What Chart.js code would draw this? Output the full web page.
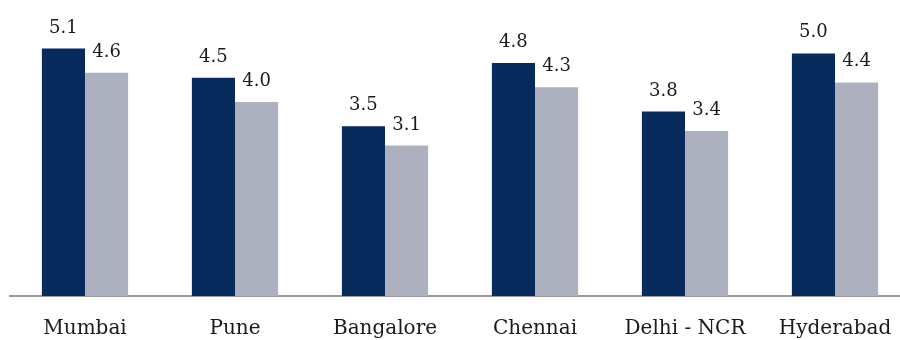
<!DOCTYPE html>
<html>
<head>
<meta charset="utf-8">
<script src="https://cdn.jsdelivr.net/npm/chart.js@4.4.1/dist/chart.umd.min.js"></script>
<style>
  html, body { margin: 0; padding: 0; background: #fff; overflow: hidden; }
  #wrap { position: relative; width: 920px; height: 340px; }
</style>
</head>
<body>
<div id="wrap"><canvas id="chartCanvas"></canvas></div>
<script>
const cities = ["Mumbai", "Pune", "Bangalore", "Chennai", "Delhi - NCR", "Hyderabad"];
const seriesA = [5.1, 4.5, 3.5, 4.8, 3.8, 5.0];
const seriesB = [4.6, 4.0, 3.1, 4.3, 3.4, 4.4];

const serif = "'DejaVu Serif', serif";

// value labels above every bar
const barValues = {
  id: 'barValues',
  afterDatasetsDraw(chart) {
    const ctx = chart.ctx;
    ctx.save();
    ctx.font = "18px " + serif;
    ctx.fillStyle = "#1a1a1a";
    ctx.textAlign = "center";
    ctx.textBaseline = "alphabetic";
    chart.data.datasets.forEach((ds, i) => {
      chart.getDatasetMeta(i).data.forEach((bar, j) => {
        ctx.fillText(ds.data[j].toFixed(1), bar.x, bar.y - 16);
      });
    });
    ctx.restore();
  }
};

new Chart(document.getElementById('chartCanvas').getContext('2d'), {
  type: 'bar',
  data: {
    labels: cities,
    datasets: [
      { data: seriesA, backgroundColor: '#062b5c', barPercentage: 1, categoryPercentage: 0.575 },
      { data: seriesB, backgroundColor: '#adb0bf', barPercentage: 1, categoryPercentage: 0.575 }
    ]
  },
  options: {
    responsive: true,
    maintainAspectRatio: false,
    animation: false,
    layout: { padding: { left: 10, right: 10, top: 0, bottom: 0 } },
    plugins: { legend: { display: false }, tooltip: { enabled: false } },
    scales: {
      x: {
        grid: { display: false, drawTicks: false },
        border: { display: true, color: '#9a9a9a', width: 2 },
        ticks: { color: '#1a1a1a', font: { family: serif, size: 20 }, padding: 21 },
        afterFit(scale) { scale.height = 44; }
      },
      y: {
        display: false,
        min: 0,
        max: 6.1
      }
    }
  },
  plugins: [barValues]
});
</script>
</body>
</html>
